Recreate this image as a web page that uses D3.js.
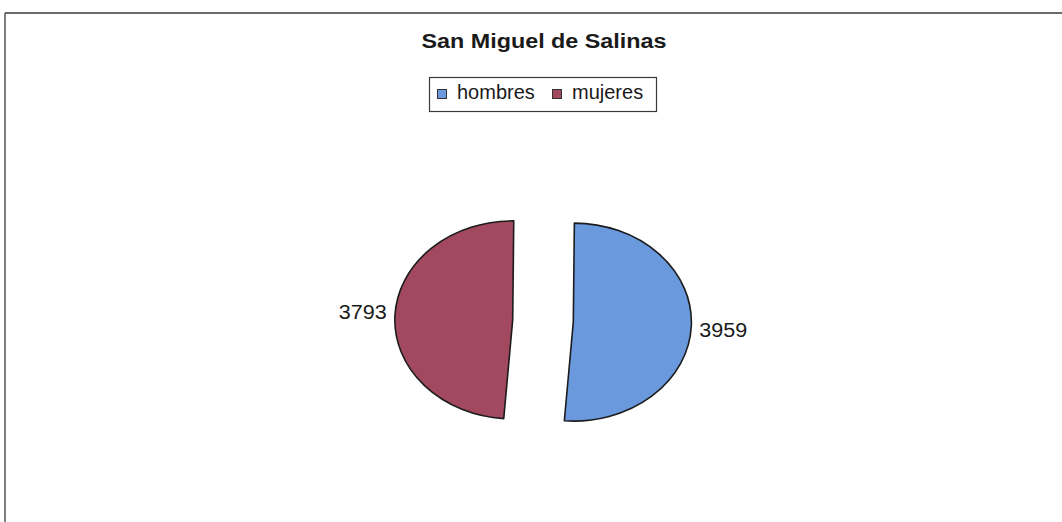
<!DOCTYPE html>
<html>
<head>
<meta charset="utf-8">
<script src="https://cdn.jsdelivr.net/npm/d3@7"></script>
<style>
  html, body { margin: 0; padding: 0; background: #fff; }
  svg { display: block; font-family: "Liberation Sans", Arial, sans-serif; }
</style>
</head>
<body>
<svg id="chart" width="1062" height="522"></svg>
<script>
// Population of San Miguel de Salinas by sex
const title = "San Miguel de Salinas";
const categories = ["hombres", "mujeres"];
const values = [3959, 3793];
const colors = ["#6a99de", "#a2495f"];

const svg = d3.select("#chart");
const W = 1062, H = 522;

// chart frame (top and left edges)
svg.append("line").attr("x1", 5).attr("x2", W).attr("y1", 13).attr("y2", 13)
  .attr("stroke", "#6a6a6a").attr("stroke-width", 2);
svg.append("line").attr("x1", 5).attr("x2", 5).attr("y1", 13).attr("y2", H)
  .attr("stroke", "#555").attr("stroke-width", 1.5);

// title
svg.append("text")
  .attr("x", 544).attr("y", 48)
  .attr("text-anchor", "middle")
  .attr("font-weight", "bold").attr("font-size", 20)
  .attr("fill", "#1a1a1a")
  .attr("textLength", 245).attr("lengthAdjust", "spacingAndGlyphs")
  .text(title);

// legend
const legend = svg.append("g");
legend.append("rect")
  .attr("x", 429.5).attr("y", 77.5).attr("width", 227).attr("height", 34)
  .attr("fill", "#fff").attr("stroke", "#3a3a3a").attr("stroke-width", 1.2);
const legendX = [437, 552];
const legendItems = legend.selectAll("g.item").data(categories).join("g")
  .attr("class", "item")
  .attr("transform", (d, i) => `translate(${legendX[i]},0)`);
legendItems.append("rect")
  .attr("x", 0.5).attr("y", 89.5).attr("width", 9).attr("height", 9)
  .attr("fill", (d, i) => colors[i]).attr("stroke", "#333").attr("stroke-width", 1);
legendItems.append("text")
  .attr("x", 20).attr("y", 99)
  .attr("font-size", 20).attr("fill", "#1a1a1a")
  .text(d => d);

// pie (drawn on a unit circle, stretched into an ellipse)
const cx = 543, cy = 321, rx = 118, ry = 99;
const explode = 0.257;
const firstAngle = 0.5 * Math.PI / 180;

const pie = d3.pie().sort(null).value(d => d.value)
  .startAngle(firstAngle).endAngle(firstAngle + 2 * Math.PI);
const arcs = pie(categories.map((c, i) => ({ name: c, value: values[i], color: colors[i] })));
const arc = d3.arc().innerRadius(0).outerRadius(1);

const slices = svg.append("g").selectAll("g.slice").data(arcs).join("g")
  .attr("class", "slice")
  .each(function (d) {
    const mid = (d.startAngle + d.endAngle) / 2;
    d.sx = cx + rx * explode * Math.sin(mid);
    d.sy = cy - ry * explode * Math.cos(mid);
    d.mid = mid;
  });

slices.append("path")
  .attr("transform", d => `translate(${d.sx},${d.sy}) scale(${rx},${ry})`)
  .attr("d", arc)
  .attr("fill", d => d.data.color)
  .attr("stroke", "#1c1c1c")
  .attr("stroke-width", 1.6)
  .attr("stroke-linejoin", "round")
  .attr("vector-effect", "non-scaling-stroke");

// value labels just outside each slice
slices.append("text")
  .attr("font-size", 20).attr("fill", "#1a1a1a")
  .attr("dominant-baseline", "central")
  .attr("text-anchor", d => Math.sin(d.mid) >= 0 ? "start" : "end")
  .attr("x", d => d.sx + rx * Math.sin(d.mid) + (Math.sin(d.mid) >= 0 ? 8 : -8))
  .attr("y", d => d.sy - ry * 2 * Math.cos(d.mid))
  .attr("textLength", 48).attr("lengthAdjust", "spacingAndGlyphs")
  .text(d => d.data.value);
</script>
</body>
</html>
